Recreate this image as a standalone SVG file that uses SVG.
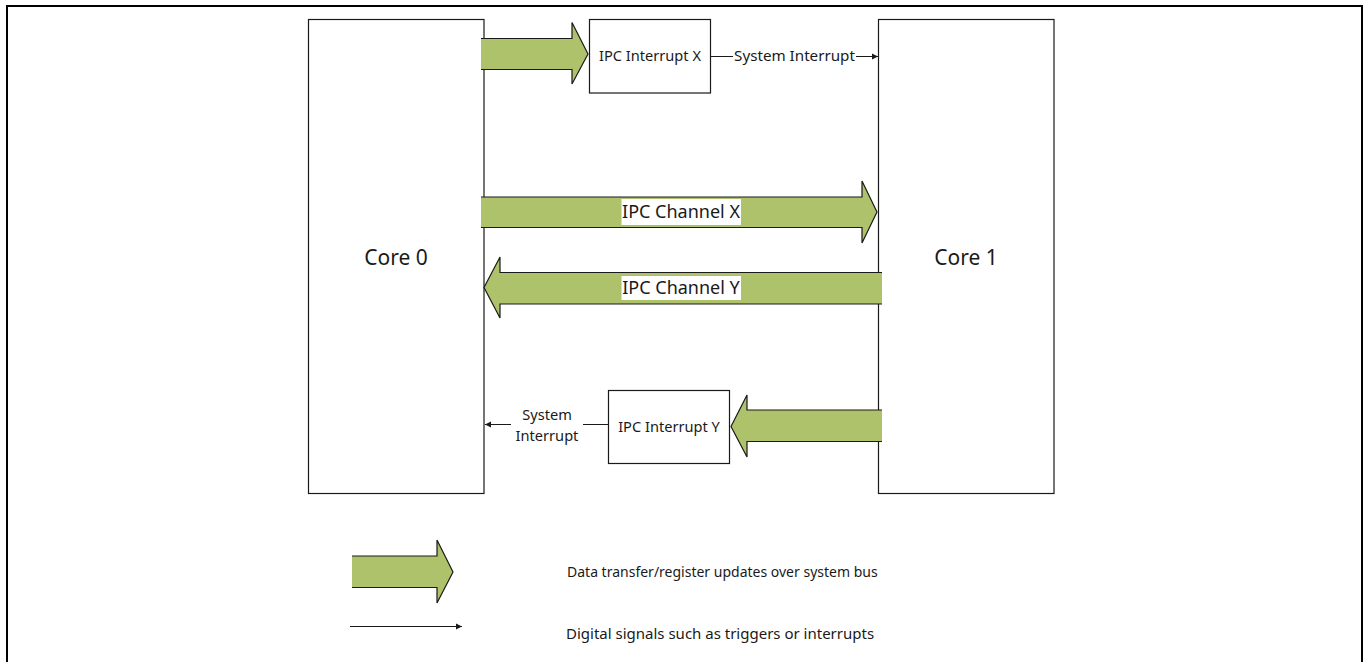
<svg xmlns="http://www.w3.org/2000/svg" width="1367" height="662" viewBox="0 0 1367 662">
<style>
.box{fill:#fff;stroke:#1a1a1a;stroke-width:1.2}
.af{fill:#AEC16B;stroke:none}
.ao{fill:none;stroke:#1a1a1a;stroke-width:1.2}
.ln{fill:none;stroke:#1a1a1a;stroke-width:1.2}
.t{font-family:"Noto Sans","Open Sans",sans-serif;fill:#1a1a1a}
</style>
<defs>
<marker id="ah" markerWidth="8" markerHeight="8" refX="7" refY="4" orient="auto" markerUnits="userSpaceOnUse">
<path d="M1,1 L7,4 L1,7 Z" fill="#1a1a1a"/>
</marker>
</defs>
<rect x="7" y="6" width="1355" height="700" fill="none" stroke="#000" stroke-width="2"/>
<g id="core0">
<rect class="box" x="308.5" y="19.5" width="175.5" height="474"/>
<text class="t" x="396" y="265" font-size="21" text-anchor="middle">Core 0</text>
</g>
<g id="core1">
<rect class="box" x="878.5" y="19.5" width="175.5" height="474"/>
<text class="t" x="966" y="265" font-size="21" text-anchor="middle">Core 1</text>
</g>
<g id="ipcIntX">
<rect class="box" x="589.5" y="19.5" width="121" height="73.5"/>
<text class="t" x="650" y="61" font-size="14.6" text-anchor="middle">IPC Interrupt X</text>
</g>
<g id="ipcIntY">
<rect class="box" x="608.5" y="390.5" width="121" height="73"/>
<text class="t" x="669" y="432" font-size="14.6" text-anchor="middle">IPC Interrupt Y</text>
</g>
<g id="connectors">
<polygon class="af" points="481,38.5 572,38.5 572,22.5 588,54 572,84 572,69.5 481,69.5"/>
<polyline class="ao" points="481,38.5 572,38.5 572,22.5 588,54 572,84 572,69.5 481,69.5"/>
<line class="ln" x1="710.5" y1="56.5" x2="878" y2="56.5" marker-end="url(#ah)"/>
<rect x="733" y="46" width="123" height="20" fill="#fff"/>
<text class="t" x="794.5" y="61" font-size="15.2" text-anchor="middle">System Interrupt</text>
<polygon class="af" points="481,197 862,197 862,181 877,212 862,243 862,227.5 481,227.5"/>
<polyline class="ao" points="481,197 862,197 862,181 877,212 862,243 862,227.5 481,227.5"/>
<rect x="621.5" y="199" width="119.5" height="26" fill="#fff"/>
<text class="t" x="681" y="218" font-size="18" text-anchor="middle">IPC Channel X</text>
<polygon class="af" points="882,272.5 500,272.5 500,257 484,287.5 500,318 500,304 882,304"/>
<polyline class="ao" points="882,272.5 500,272.5 500,257 484,287.5 500,318 500,304 882,304"/>
<rect x="621.5" y="276" width="119.5" height="24" fill="#fff"/>
<text class="t" x="681" y="294" font-size="18" text-anchor="middle">IPC Channel Y</text>
<polygon class="af" points="882,410 747,410 747,395 731,426.5 747,457 747,441.5 882,441.5"/>
<polyline class="ao" points="882,410 747,410 747,395 731,426.5 747,457 747,441.5 882,441.5"/>
<line class="ln" x1="608.5" y1="424.5" x2="485" y2="424.5" marker-end="url(#ah)"/>
<rect x="511" y="404" width="72" height="40" fill="#fff"/>
<text class="t" x="547" y="420" font-size="14.6" text-anchor="middle">System</text>
<text class="t" x="547" y="441" font-size="14.6" text-anchor="middle">Interrupt</text>
</g>
<g id="legend">
<polygon class="af" points="352,556 437,556 437,540 453,572 437,603 437,587.5 352,587.5"/>
<polyline class="ao" points="352,556 437,556 437,540 453,572 437,603 437,587.5 352,587.5"/>
<text class="t" x="567" y="577" font-size="14">Data transfer/register updates over system bus</text>
<line class="ln" x1="350" y1="626.5" x2="462" y2="626.5" marker-end="url(#ah)"/>
<text class="t" x="566" y="639" font-size="15">Digital signals such as triggers or interrupts</text>
</g>
</svg>
